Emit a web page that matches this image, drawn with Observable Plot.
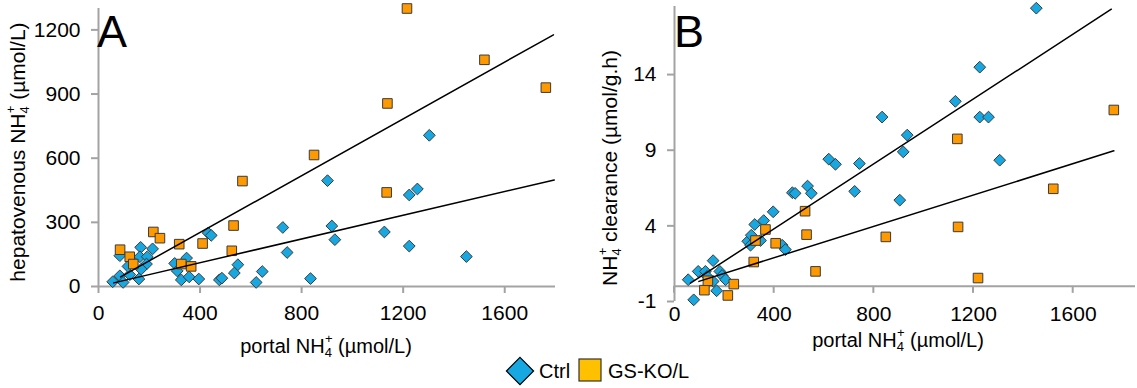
<!DOCTYPE html>
<html><head><meta charset="utf-8">
<script src="https://cdn.jsdelivr.net/npm/d3@7"></script>
<script src="https://cdn.jsdelivr.net/npm/@observablehq/plot@0.6"></script>
<style>
body{margin:0;background:#fff;}
#root{position:relative;width:1137px;height:388px;overflow:hidden;font-family:"Liberation Sans",Arial,sans-serif;}
#root svg{position:absolute;top:0;overflow:visible;}
</style></head><body><div id="root"></div>
<script>
// ---------- data ----------
const ctrlPortalA  = [56,84,97,84,123,116,159,166,163,192,189,168,213,300,310,326,347,357,395,432,444,476,486,535,549,621,645,726,743,835,902,919,931,1126,1224,1256,1303,1224,1449];
const ctrlHepaticA = [22,50,19,144,55,94,35,183,139,139,105,81,176,108,73,31,133,45,35,250,239,31,39,63,102,19,70,276,159,37,495,283,219,255,428,456,707,189,140];
const koPortalA    = [85,123,137,216,242,318,326,365,410,525,532,567,849,1135,1138,1215,1520,1762];
const koHepaticA   = [172,139,105,255,226,198,105,94,201,167,285,493,615,440,856,1300,1060,930];

const ctrlPortalB  = [55,77,95,124,131,155,155,169,182,191,205,294,305,308,322,345,358,396,432,445,473,484,534,549,619,646,723,742,833,904,918,934,1127,1225,1225,1260,1305,1452];
const ctrlClearB   = [0.44,-0.89,0.99,0.99,0.66,1.70,0.33,-0.29,0.99,0.72,0.44,2.98,2.72,3.38,4.09,3.03,4.35,4.93,2.72,2.43,6.19,6.15,6.63,6.15,8.41,8.07,6.28,8.12,11.19,5.70,8.89,10.0,12.23,14.49,11.19,11.19,8.34,18.39];
const koPortalB    = [120,134,214,238,318,325,365,406,524,530,566,848,1135,1138,1218,1520,1763];
const koClearB     = [-0.25,0.37,-0.60,0.15,1.61,3.03,3.76,2.85,4.97,3.42,0.99,3.27,9.75,3.93,0.55,6.45,11.66];

// regression lines (end points)
const fitCtrlA_x = [60,1795],  fitCtrlA_y = [17,498];
const fitKoA_x   = [87,1792],  fitKoA_y   = [45,1177];
const fitCtrlB_x = [64,1753],  fitCtrlB_y = [0.21,18.32];
const fitKoB_x   = [98,1763],  fitKoB_y   = [0.33,8.96];

const xTicks  = [0,400,800,1200,1600];
const yTicksA = [0,300,600,900,1200];
const yTicksB = [-1,4,9,14];
const groups  = ["Ctrl","GS-KO/L"];

// ---------- styling ----------
const BLUE="#17a8e2", ORANGE="#ff9900", LEGSQ="#ffc000", EDGE="#3a3a3a", AXIS="#a3a3a3";
const FONT='"Liberation Sans", Arial, sans-serif';
const fmt=d=>String(d);
const zip=(xs,ys)=>xs.map((x,i)=>({x,y:ys[i]}));

const root=document.getElementById("root");

function dots(xs,ys,kind){
  return kind==="ctrl"
    ? Plot.dot(zip(xs,ys),{x:"x",y:"y",symbol:"diamond2",r:5.3,fill:BLUE,stroke:EDGE,strokeWidth:1})
    : Plot.dot(zip(xs,ys),{x:"x",y:"y",symbol:"square",r:5.4,fill:ORANGE,stroke:EDGE,strokeWidth:1});
}
function fit(xs,ys){return Plot.line(zip(xs,ys),{x:"x",y:"y",stroke:"#000",strokeWidth:1.5});}

function addTitle(svg,x,y,rot,parts,size){
  const t=d3.select(svg).append("text")
    .attr("transform",`translate(${x},${y}) rotate(${rot})`)
    .attr("text-anchor","middle").attr("font-size",size).attr("fill","#000")
    .attr("font-family",FONT);
  for(const p of parts){
    const s=t.append("tspan").text(p.t);
    if(p.dx!=null)s.attr("dx",p.dx);
    if(p.dy!=null)s.attr("dy",p.dy);
    if(p.fs!=null)s.attr("font-size",p.fs);
  }
}
// subscript 4 with superscript + stacked above it
const nh4=(rest)=>[{t:"NH"},{t:"4",dy:4,fs:13},{t:"+",dx:-7,dy:-14.5,fs:13},{t:rest,dy:10.5}];

// ---------- Panel A ----------
const plotA=Plot.plot({
  width:570,height:388,marginLeft:98,marginRight:15,marginTop:8,marginBottom:102,
  x:{domain:[0,1800]},y:{domain:[0,1300]},
  style:{fontFamily:FONT,fontSize:"21px",color:"#000",background:"transparent"},
  marks:[
    Plot.axisY(yTicksA,{tickSize:7,tickPadding:11,stroke:AXIS,strokeWidth:2,fill:"#000",label:null,fontSize:21,tickFormat:fmt}),
    Plot.axisX(xTicks,{tickSize:7,tickPadding:12,stroke:AXIS,strokeWidth:2,fill:"#000",label:null,fontSize:21,tickFormat:fmt}),
    Plot.ruleX([0],{stroke:AXIS,strokeWidth:2}),
    Plot.ruleY([0],{stroke:AXIS,strokeWidth:2}),
    dots(ctrlPortalA,ctrlHepaticA,"ctrl"),
    dots(koPortalA,koHepaticA,"ko"),
    fit(fitCtrlA_x,fitCtrlA_y),
    fit(fitKoA_x,fitKoA_y)
  ]
});
plotA.style.left="0px";
root.appendChild(plotA);
d3.select(plotA).append("text").attr("x",112).attr("y",47).attr("font-size",45).attr("font-family",FONT).text("A");
addTitle(plotA,25,152,-90,[{t:"hepatovenous "},...nh4(" (µmol/L)")],21);
addTitle(plotA,326,353,0,[{t:"portal "},...nh4(" (µmol/L)")],20);

// ---------- Panel B ----------
const plotB=Plot.plot({
  width:567,height:388,marginLeft:104,marginRight:2,marginTop:6,marginBottom:87,
  x:{domain:[0,1850]},y:{domain:[-1,18.5]},
  style:{fontFamily:FONT,fontSize:"21px",color:"#000",background:"transparent"},
  marks:[
    Plot.axisY(yTicksB,{tickSize:7,tickPadding:11,stroke:AXIS,strokeWidth:2,fill:"#000",label:null,fontSize:21,tickFormat:fmt}),
    Plot.axisX(xTicks,{tickSize:0,tickPadding:5,fill:"#000",label:null,fontSize:21,tickFormat:fmt}),
    Plot.ruleX([0],{stroke:AXIS,strokeWidth:2}),
    Plot.ruleY([0],{stroke:AXIS,strokeWidth:2}),
    dots(ctrlPortalB,ctrlClearB,"ctrl"),
    dots(koPortalB,koClearB,"ko"),
    fit(fitCtrlB_x,fitCtrlB_y),
    fit(fitKoB_x,fitKoB_y)
  ]
});
plotB.style.left="570px";
root.appendChild(plotB);
{
  const sx=plotB.scale("x"), sy=plotB.scale("y");
  const y0=sy.apply(0);
  d3.select(plotB).insert("g",":first-child").selectAll("line").data(xTicks).join("line")
    .attr("x1",d=>sx.apply(d)).attr("x2",d=>sx.apply(d))
    .attr("y1",y0).attr("y2",y0+7).attr("stroke",AXIS).attr("stroke-width",2);
}
d3.select(plotB).append("text").attr("x",119).attr("y",47).attr("font-size",45).attr("font-family",FONT).text("B");
addTitle(plotB,47,168,-90,[...nh4(" clearance (µmol/g.h)")],21);
addTitle(plotB,328,347,0,[{t:"portal "},...nh4(" (µmol/L)")],20);

// ---------- Legend ----------
const leg=d3.select(root).append("svg").attr("width",1137).attr("height",388).style("left","0px").style("pointer-events","none");
const lg=leg.append("g").attr("font-family",FONT).attr("font-size",20);
lg.append("path").attr("d",d3.symbol(d3.symbolDiamond2,470)()).attr("transform","translate(520,371)")
  .attr("fill",BLUE).attr("stroke","#000").attr("stroke-width",1.2);
lg.append("text").attr("x",539).attr("y",378).text(groups[0]);
lg.append("rect").attr("x",579).attr("y",359).attr("width",22).attr("height",22)
  .attr("fill",LEGSQ).attr("stroke","#333").attr("stroke-width",1.2);
lg.append("text").attr("x",608).attr("y",378).text(groups[1]);
</script></body></html>
